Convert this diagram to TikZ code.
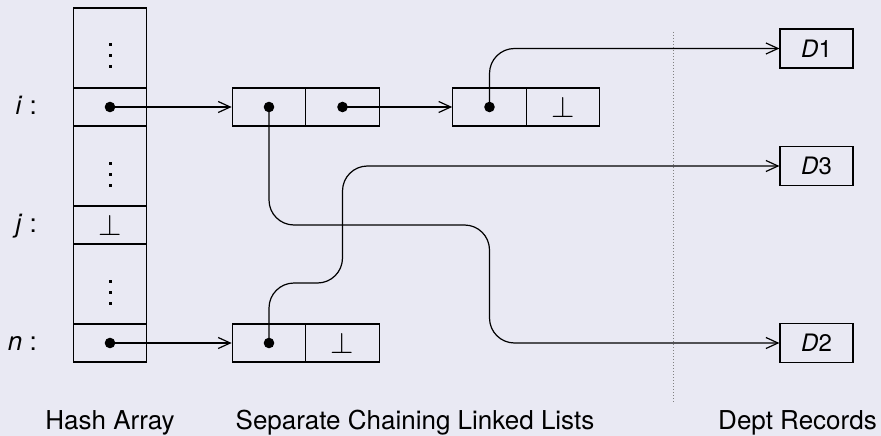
\RequirePackage{fix-cm}
\documentclass[tikz,border=0pt]{standalone}
\usepackage{fontspec}
\setmainfont{TeX Gyre Heros}
\usetikzlibrary{arrows.meta,calc}
\definecolor{bg}{RGB}{233,233,243}
\begin{document}
\begin{tikzpicture}[x=1pt,y=-1pt,
  cell/.style={draw, line width=1.2pt, minimum width=73.5pt, inner sep=0pt, font=\fontsize{30}{34}\selectfont},
  smallcell/.style={cell, minimum height=38pt},
  tallcell/.style={cell, minimum height=80pt},
  rec/.style={draw, line width=1.2pt, minimum width=73pt, minimum height=39pt, inner sep=0pt, font=\fontsize{24}{28}\selectfont},
  lbl/.style={inner sep=0pt, font=\fontsize{26}{30}\selectfont},
  ptr/.style={line width=1.2pt, -{Straight Barb[length=12pt,width=11pt]}},
  sep/.style={gray, line width=1pt, dash pattern=on 1pt off 2pt}]
\fill[bg] (0,0) rectangle (881,436);
\useasboundingbox (0,0) rectangle (881,436);

% hash array
\node[tallcell] (h0) at (110,48) {};
\node[smallcell] (hi) at (110,107) {};
\node[tallcell] (h1) at (110,166) {};
\node[smallcell] (hj) at (110,225) {$\bot$};
\node[tallcell] (h2) at (110,284) {};
\node[smallcell] (hn) at (110,343) {};

% lists
\node[smallcell] (a1) at (269,107) {};
\node[smallcell] (a2) at (342.5,107) {};
\node[smallcell] (b1) at (489.5,107) {};
\node[smallcell] (b2) at (563,107) {$\bot$};
\node[smallcell] (c1) at (269,343) {};
\node[smallcell] (c2) at (342.5,343) {$\bot$};

% records
\node[rec] (d1) at (816.5,48.5) {\textit{D}1};
\node[rec] (d3) at (816.5,166) {\textit{D}3};
\node[rec] (d2) at (816.5,343) {\textit{D}2};

% labels
\node[lbl, anchor=base east] (li) at (37,114) {\textit{i} :};
\node[lbl, anchor=base east] (lj) at (37,232) {\textit{j} :};
\node[lbl, anchor=base east] (ln) at (37,350) {\textit{n} :};
\node[lbl, anchor=base] (t1) at (110,429) {Hash Array};
\node[lbl, anchor=base] (t2) at (415,429) {Separate Chaining Linked Lists};
\node[lbl, anchor=base] (t3) at (797.5,429) {Dept Records};

% vertical dots
\foreach \c in {h0,h1,h2}
  \foreach \d in {-3,8,19}
    \fill ($(\c.center)+(-1.5,\d-1.5)$) rectangle ++(3,3);

% separator
\coordinate (sepTop) at (673,32);
\coordinate (sepBot) at (673,403);
\draw[sep] (sepTop) -- (sepBot);

% turning points
\coordinate (ka) at (489.5,225);
\coordinate (kb) at (342.5,283);

% pointers
\draw[ptr] (hi.center) -- (a1.west);
\draw[ptr] (hn.center) -- (c1.west);
\draw[ptr] (a2.center) -- (b1.west);
\draw[ptr, rounded corners=25pt] (b1.center) |- (d1.west);
\draw[ptr, rounded corners=25pt] (a1.center) |- (ka) |- (d2.west);
\draw[ptr, rounded corners=25pt] (c1.center) |- (kb) |- (d3.west);

\foreach \n in {hi,hn,a1,a2,b1,c1}
  \fill (\n.center) circle (5.3);
\end{tikzpicture}
\end{document}
